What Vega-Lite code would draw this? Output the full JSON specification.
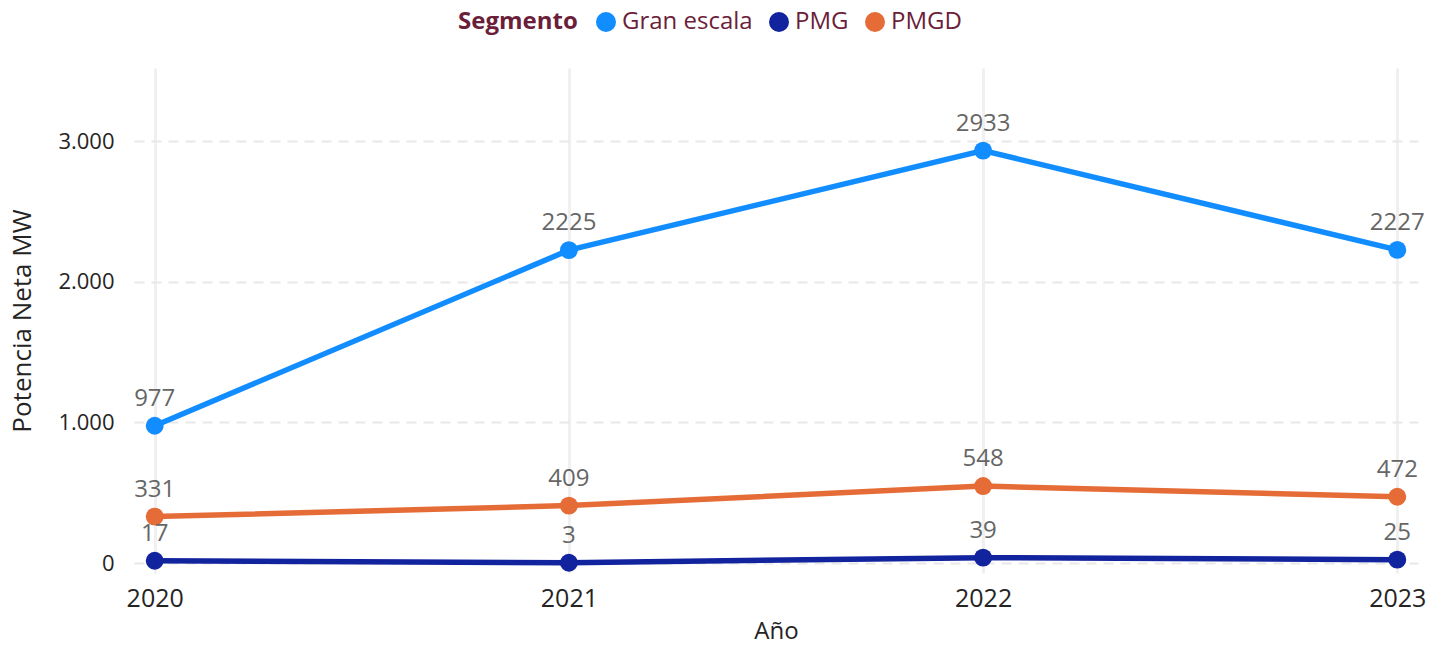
{
  "$schema": "https://vega.github.io/schema/vega-lite/v6.json",
  "autosize": {"type": "none"},
  "width": 1284,
  "height": 505,
  "padding": {"left": 134, "top": 68, "right": 12, "bottom": 73},
  "background": "white",
  "config": {
    "font": "Open Sans",
    "view": {"stroke": null},
    "axis": {"domain": false, "ticks": false}
  },
  "data": {
    "values": [
      {"Año": "2020", "Segmento": "Gran escala", "Potencia": 977},
      {"Año": "2021", "Segmento": "Gran escala", "Potencia": 2225},
      {"Año": "2022", "Segmento": "Gran escala", "Potencia": 2933},
      {"Año": "2023", "Segmento": "Gran escala", "Potencia": 2227},
      {"Año": "2020", "Segmento": "PMG", "Potencia": 17},
      {"Año": "2021", "Segmento": "PMG", "Potencia": 3},
      {"Año": "2022", "Segmento": "PMG", "Potencia": 39},
      {"Año": "2023", "Segmento": "PMG", "Potencia": 25},
      {"Año": "2020", "Segmento": "PMGD", "Potencia": 331},
      {"Año": "2021", "Segmento": "PMGD", "Potencia": 409},
      {"Año": "2022", "Segmento": "PMGD", "Potencia": 548},
      {"Año": "2023", "Segmento": "PMGD", "Potencia": 472}
    ]
  },
  "encoding": {
    "x": {
      "field": "Año", "type": "ordinal",
      "scale": {"type": "point", "padding": 0.05},
      "axis": {
        "title": "Año", "labelAngle": 0, "labelFontSize": 25, "labelColor": "#252423",
        "labelPadding": 13, "titleFontSize": 24, "titleColor": "#252423", "titleFontWeight": "normal",
        "titlePadding": 8, "grid": true, "gridColor": "#f0f0f0", "gridWidth": 3
      }
    },
    "y": {
      "field": "Potencia", "type": "quantitative",
      "scale": {"domain": [-70, 3520], "nice": false, "zero": false},
      "axis": {
        "title": "Potencia Neta MW", "values": [0, 1000, 2000, 3000],
        "format": ",d", "labelFontSize": 22, "labelColor": "#252423", "labelPadding": 20,
        "titleFontSize": 26, "titleColor": "#252423", "titleFontWeight": "normal", "titlePadding": 22,
        "labelExpr": "replace(datum.label, ',', '.')",
        "grid": true, "gridColor": "#e8e8e8", "gridWidth": 2, "gridDash": [10, 7]
      }
    },
    "color": {
      "field": "Segmento", "type": "nominal",
      "scale": {"domain": ["Gran escala", "PMG", "PMGD"], "range": ["#118DFF", "#12239E", "#E66C37"]},
      "legend": {
        "orient": "none", "legendX": 324, "legendY": -58, "direction": "horizontal",
        "titleOrient": "left", "title": "Segmento", "titleFontSize": 24, "titleFontWeight": "bold",
        "titleColor": "#6B1E3A", "titlePadding": 16, "labelFontSize": 24, "labelColor": "#6B1E3A",
        "labelOffset": 4, "columnPadding": 14, "symbolType": "circle", "symbolSize": 400,
        "symbolStrokeWidth": 0, "symbolOpacity": 1
      }
    }
  },
  "layer": [
    {"mark": {"type": "line", "strokeWidth": 5.5}},
    {"mark": {"type": "point", "filled": true, "size": 320, "opacity": 1}},
    {
      "mark": {"type": "text", "dy": -27, "fontSize": 24, "color": "#666666"},
      "encoding": {"text": {"field": "Potencia", "type": "quantitative"}, "color": {"value": "#666666"}}
    }
  ]
}
